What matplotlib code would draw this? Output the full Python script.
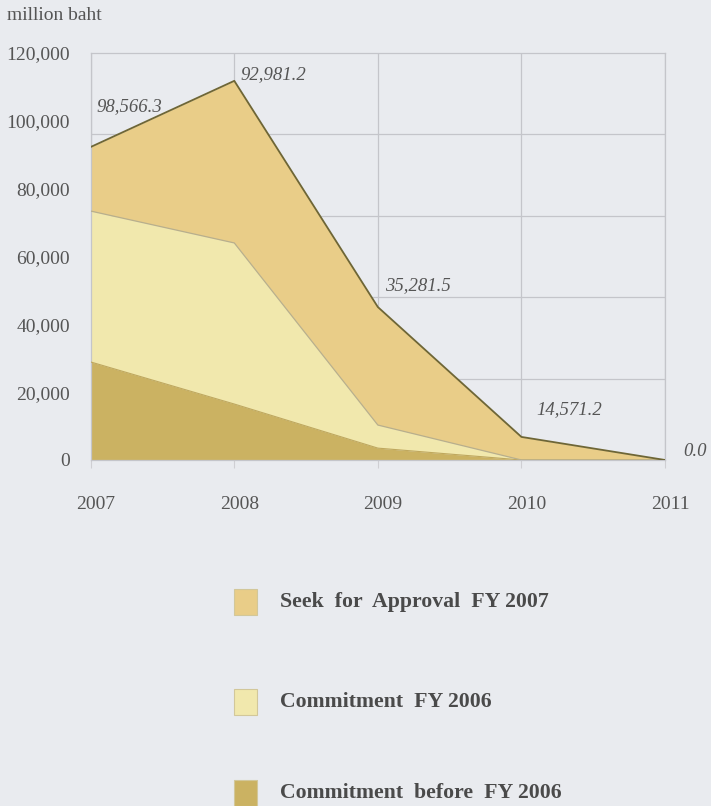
"""Stacked area chart: budget commitments by fiscal year (million baht)."""

import matplotlib.pyplot as plt
from matplotlib.transforms import ScaledTranslation
from matplotlib.ticker import FuncFormatter, MultipleLocator
import matplotlib.patches as mpatches

YEARS = [2007, 2008, 2009, 2010, 2011]
BEFORE_FY2006 = [28900, 16500, 3500, 0, 0]
COMMITMENT_FY2006 = [44500, 47500, 6800, 0, 0]
SEEK_FY2007 = [18900, 47800, 34800, 6800, 0]
VALUE_LABELS = ["98,566.3", "92,981.2", "35,281.5", "14,571.2", "0.0"]
# label anchor points (x, y) in data units
LABEL_X = [2007.27, 2008.27, 2009.28, 2010.33, 2011.21]
LABEL_Y = [104100, 113600, 51300, 14750, 2400]

LEGEND_LABELS = [
    "Seek  for  Approval  FY 2007",
    "Commitment  FY 2006",
    "Commitment  before  FY 2006",
]

BG = "#E9EBEF"
SEEK_COLOR = "#E9CD88"
FY06_COLOR = "#F1E8AD"
BEFORE_COLOR = "#CBB262"
GRID_COLOR = "#C4C5CA"
TEXT_COLOR = "#555555"
SERIF = ["Liberation Serif", "DejaVu Serif"]

plt.rcParams["font.family"] = SERIF

fig = plt.figure(figsize=(7.11, 8.06), dpi=100, facecolor=BG)
ax = fig.add_axes([0.1276, 0.4293, 0.8077, 0.5049])
ax.set_facecolor(BG)

level1 = BEFORE_FY2006
level2 = [a + b for a, b in zip(level1, COMMITMENT_FY2006)]
level3 = [a + b for a, b in zip(level2, SEEK_FY2007)]

ax.fill_between(YEARS, level2, level3, color=SEEK_COLOR, lw=0, zorder=2)
ax.fill_between(YEARS, level1, level2, color=FY06_COLOR, lw=0, zorder=2)
ax.fill_between(YEARS, 0, level1, color=BEFORE_COLOR, lw=0, zorder=2)
ax.plot(YEARS, level1, color="#BFA85E", lw=0.8, zorder=3)
ax.plot(YEARS, level2, color="#B8AF8C", lw=0.9, zorder=3)
ax.plot(YEARS, level3, color="#6E6636", lw=1.3, zorder=4)

ax.set_xlim(YEARS[0], YEARS[-1])
ax.set_ylim(0, 120000)

ax.yaxis.set_major_locator(MultipleLocator(20000))
ax.yaxis.set_minor_locator(MultipleLocator(24000))
ax.yaxis.set_major_formatter(FuncFormatter(lambda v, _: f"{v:,.0f}"))
ax.set_xticks(YEARS)
ax.grid(True, which="minor", axis="y", color=GRID_COLOR, lw=0.9, zorder=1)
ax.grid(True, which="major", axis="x", color=GRID_COLOR, lw=0.9, zorder=1)
ax.set_axisbelow(True)

ax.tick_params(axis="y", which="both", length=0, pad=15, labelsize=14,
               labelcolor=TEXT_COLOR)
ax.tick_params(axis="x", length=6, width=0.8, color="#CFCFD3", pad=20,
               labelsize=14, labelcolor=TEXT_COLOR)
for label in ax.get_xticklabels():
    label.set_transform(label.get_transform() + ScaledTranslation(5 / 100, 0, fig.dpi_scale_trans))

for side in ["top", "right", "left", "bottom"]:
    ax.spines[side].set_color(GRID_COLOR)
    ax.spines[side].set_linewidth(0.9)

for text, x, y in zip(VALUE_LABELS, LABEL_X, LABEL_Y):
    ax.text(x, y, text, ha="center", va="center", style="italic",
            fontsize=13.5, color=TEXT_COLOR, clip_on=False, zorder=5)

fig.text(7 / 711, 1 - 16 / 806, "million baht", ha="left", va="center",
         fontsize=14, color=TEXT_COLOR)

# legend: stacked vertically below the chart
legend_colors = [SEEK_COLOR, FY06_COLOR, BEFORE_COLOR]
legend_y = [602, 702, 793]
for label, color, py in zip(LEGEND_LABELS, legend_colors, legend_y):
    fig.patches.append(mpatches.Rectangle(
        (234 / 711, 1 - (py + 13) / 806), 23 / 711, 26 / 806,
        transform=fig.transFigure, facecolor=color, edgecolor="#D2C79A", lw=0.8))
    fig.text(280 / 711, 1 - py / 806, label, ha="left", va="center",
             fontsize=15.7, fontweight="bold", color="#4A4A4A")

fig.savefig("out.png", dpi=100, facecolor=BG)
